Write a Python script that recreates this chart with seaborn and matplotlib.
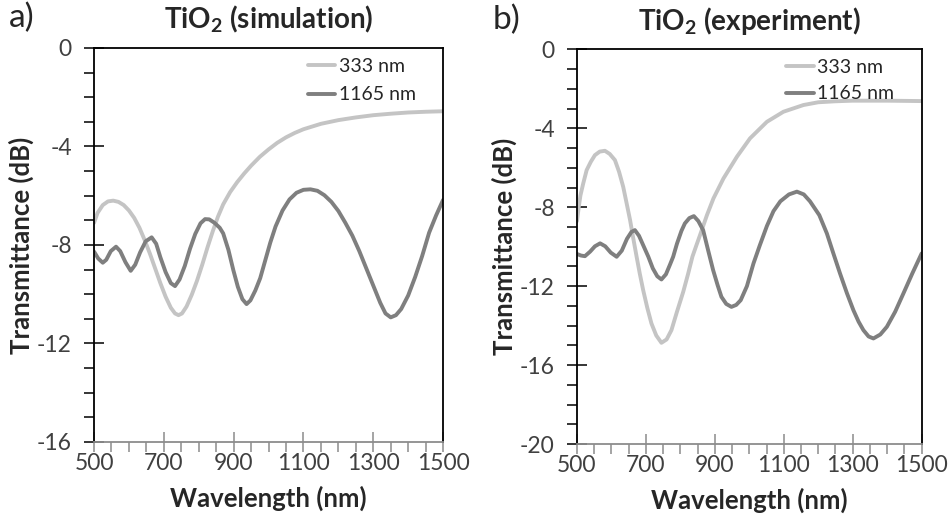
import pandas as pd
import matplotlib.pyplot as plt
import matplotlib.ticker as mticker
import seaborn as sns

# ---- data (wavelength in nm, transmittance in dB) ----
sim_wl_333 = [500, 510, 525, 540, 555, 570, 585, 600, 615, 630, 645, 660, 675, 690, 705, 720,
              732, 742, 752, 765, 780, 795, 810, 825, 840, 855, 870, 890, 910, 930, 950, 975,
              1000, 1025, 1050, 1075, 1100, 1150, 1200, 1250, 1300, 1350, 1400, 1450, 1500]
sim_tr_333 = [-7.1, -6.7, -6.38, -6.23, -6.2, -6.25, -6.38, -6.6, -6.9, -7.3, -7.8, -8.35,
              -8.95, -9.55, -10.1, -10.55, -10.78, -10.85, -10.78, -10.5, -10.02, -9.45, -8.8,
              -8.1, -7.45, -6.85, -6.35, -5.85, -5.45, -5.1, -4.78, -4.42, -4.12, -3.85, -3.63,
              -3.45, -3.3, -3.08, -2.93, -2.82, -2.73, -2.67, -2.62, -2.59, -2.57]

sim_wl_1165 = [500, 512, 525, 535, 548, 563, 575, 590, 605, 618, 632, 648, 665, 678, 690, 705,
               720, 732, 745, 760, 775, 790, 805, 818, 830, 845, 860, 870, 885, 899, 912, 925,
               937, 948, 962, 976, 990, 1005, 1020, 1040, 1060, 1080, 1100, 1120, 1140, 1160,
               1180, 1200, 1220, 1240, 1260, 1280, 1300, 1320, 1335, 1350, 1365, 1380, 1400,
               1420, 1440, 1460, 1480, 1500]
sim_tr_1165 = [-8.27, -8.55, -8.72, -8.6, -8.25, -8.07, -8.25, -8.7, -9.05, -8.8, -8.3, -7.85,
               -7.69, -7.95, -8.5, -9.1, -9.55, -9.67, -9.4, -8.85, -8.15, -7.55, -7.12, -6.95,
               -6.96, -7.1, -7.3, -7.53, -8.2, -9.02, -9.7, -10.2, -10.4, -10.25, -9.85, -9.35,
               -8.65, -7.9, -7.25, -6.6, -6.15, -5.88, -5.76, -5.74, -5.8, -5.98, -6.25, -6.62,
               -7.1, -7.62, -8.25, -8.95, -9.65, -10.35, -10.78, -10.94, -10.85, -10.6, -10.05,
               -9.3, -8.45, -7.5, -6.8, -6.17]

exp_wl_333 = [500, 505, 510, 518, 528, 540, 552, 566, 581, 595, 610, 622, 634, 644, 654, 663,
              673, 682, 692, 704, 716, 730, 745, 760, 774, 790, 808, 822, 835, 846, 857, 877,
              896, 925, 964, 1002, 1051, 1099, 1157, 1200, 1250, 1300, 1400, 1500]
exp_tr_333 = [-8.7, -8.0, -7.4, -6.8, -6.12, -5.7, -5.36, -5.18, -5.14, -5.3, -5.61, -6.2,
              -6.96, -7.8, -8.65, -9.55, -10.51, -11.35, -12.2, -13.1, -13.89, -14.5, -14.87,
              -14.7, -14.23, -13.3, -12.3, -11.4, -10.5, -9.95, -9.41, -8.4, -7.55, -6.54,
              -5.44, -4.51, -3.67, -3.16, -2.82, -2.68, -2.63, -2.6, -2.6, -2.62]

exp_wl_1165 = [500, 512, 523, 538, 552, 567, 582, 598, 615, 630, 645, 658, 668, 680, 694, 707,
               720, 733, 745, 758, 770, 779, 790, 803, 813, 826, 839, 852, 866, 880, 895, 908,
               919, 933, 948, 962, 975, 993, 1012, 1030, 1051, 1070, 1090, 1115, 1138, 1158,
               1176, 1203, 1225, 1244, 1263, 1283, 1302, 1317, 1331, 1346, 1360, 1380, 1399,
               1423, 1447, 1473, 1500]
exp_tr_1165 = [-10.37, -10.45, -10.48, -10.25, -9.98, -9.83, -9.98, -10.3, -10.51, -10.2, -9.6,
               -9.25, -9.16, -9.45, -10.0, -10.51, -11.1, -11.5, -11.66, -11.4, -10.9, -10.51,
               -9.85, -9.2, -8.82, -8.55, -8.45, -8.7, -9.16, -10.15, -11.19, -11.95, -12.54,
               -12.9, -13.05, -12.95, -12.71, -12.0, -10.85, -9.95, -8.95, -8.2, -7.7, -7.35,
               -7.21, -7.35, -7.7, -8.4, -9.33, -10.35, -11.35, -12.35, -13.22, -13.8, -14.23,
               -14.55, -14.65, -14.45, -14.06, -13.3, -12.37, -11.35, -10.34]

series_names = ['333 nm', '1165 nm']
panel_titles = ['TiO$_\\mathbf{2}$ (simulation)', 'TiO$_\\mathbf{2}$ (experiment)']
panel_letters = ['a)', 'b)']
x_ticks = [500, 700, 900, 1100, 1300, 1500]
y_ticks = [[0, -4, -8, -12, -16], [0, -4, -8, -12, -16, -20]]


def make_frame(wl_a, tr_a, wl_b, tr_b):
    a = pd.DataFrame({'wl': wl_a, 'tr': tr_a, 'thickness': series_names[0]})
    b = pd.DataFrame({'wl': wl_b, 'tr': tr_b, 'thickness': series_names[1]})
    return pd.concat([a, b], ignore_index=True)


frames = [make_frame(sim_wl_333, sim_tr_333, sim_wl_1165, sim_tr_1165),
          make_frame(exp_wl_333, exp_tr_333, exp_wl_1165, exp_tr_1165)]

sns.set_style('white')
plt.rcParams['font.family'] = ['Lato', 'DejaVu Sans']
plt.rcParams['mathtext.fontset'] = 'custom'
plt.rcParams['mathtext.rm'] = 'Lato'
plt.rcParams['mathtext.bf'] = 'Lato:bold'
plt.rcParams['axes.unicode_minus'] = False

palette = {'333 nm': '#c4c4c4', '1165 nm': '#7f7f7f'}

fig = plt.figure(figsize=(9.49, 5.22), dpi=100)
axes = [fig.add_axes([0.0991, 0.1533, 0.3678, 0.7548]),
        fig.add_axes([0.608, 0.1494, 0.3632, 0.7560])]
legend_anchor = [(0.955, 1.005), (0.955, 1.005)]
legend_spacing = [0.6, 0.48]

for i, ax in enumerate(axes):
    sns.lineplot(ax=ax, data=frames[i], x='wl', y='tr', hue='thickness', palette=palette,
                 linewidth=2.8, sort=False, legend=True, solid_joinstyle='round',
                 solid_capstyle='round')
    ax.set_xlim(500, 1500)
    ax.set_ylim(y_ticks[i][-1], 0)
    ax.set_xticks(x_ticks)
    ax.set_yticks(y_ticks[i])
    ax.xaxis.set_minor_locator(mticker.MultipleLocator(50))
    ax.yaxis.set_minor_locator(mticker.MultipleLocator(1))
    ax.tick_params(axis='both', which='both', bottom=True, left=True, top=False, right=False)
    ax.tick_params(axis='both', which='major', direction='inout', length=14, width=1.1,
                   labelsize=16.5, labelcolor='#404040')
    ax.tick_params(axis='both', which='minor', direction='out', length=7, width=1.1)
    ax.tick_params(axis='x', which='both', color='#8c8c8c', pad=1)
    ax.tick_params(axis='y', which='both', color='black', pad=9)
    for side in ['left', 'top', 'right']:
        ax.spines[side].set_color('black')
        ax.spines[side].set_linewidth(1.3)
    ax.spines['bottom'].set_color('#8c8c8c')
    ax.spines['bottom'].set_linewidth(1.3)

    ax.set_xlabel('Wavelength (nm)', fontsize=18.5, fontweight='bold', labelpad=8)
    ax.set_ylabel('Transmittance (dB)', fontsize=18.5, fontweight='bold', labelpad=2)
    ax.set_title(panel_titles[i], fontsize=20, fontweight='bold', pad=14)
    ax.text(-0.245, 1.075, panel_letters[i], transform=ax.transAxes, fontsize=24,
            ha='left', va='center')

    handles, labels = ax.get_legend_handles_labels()
    ax.legend(handles, labels, loc='upper right', bbox_to_anchor=legend_anchor[i],
              frameon=False, fontsize=14, handlelength=1.4, handletextpad=0.2,
              labelspacing=legend_spacing[i], borderaxespad=0.2)

fig.savefig('out.png', dpi=100)
